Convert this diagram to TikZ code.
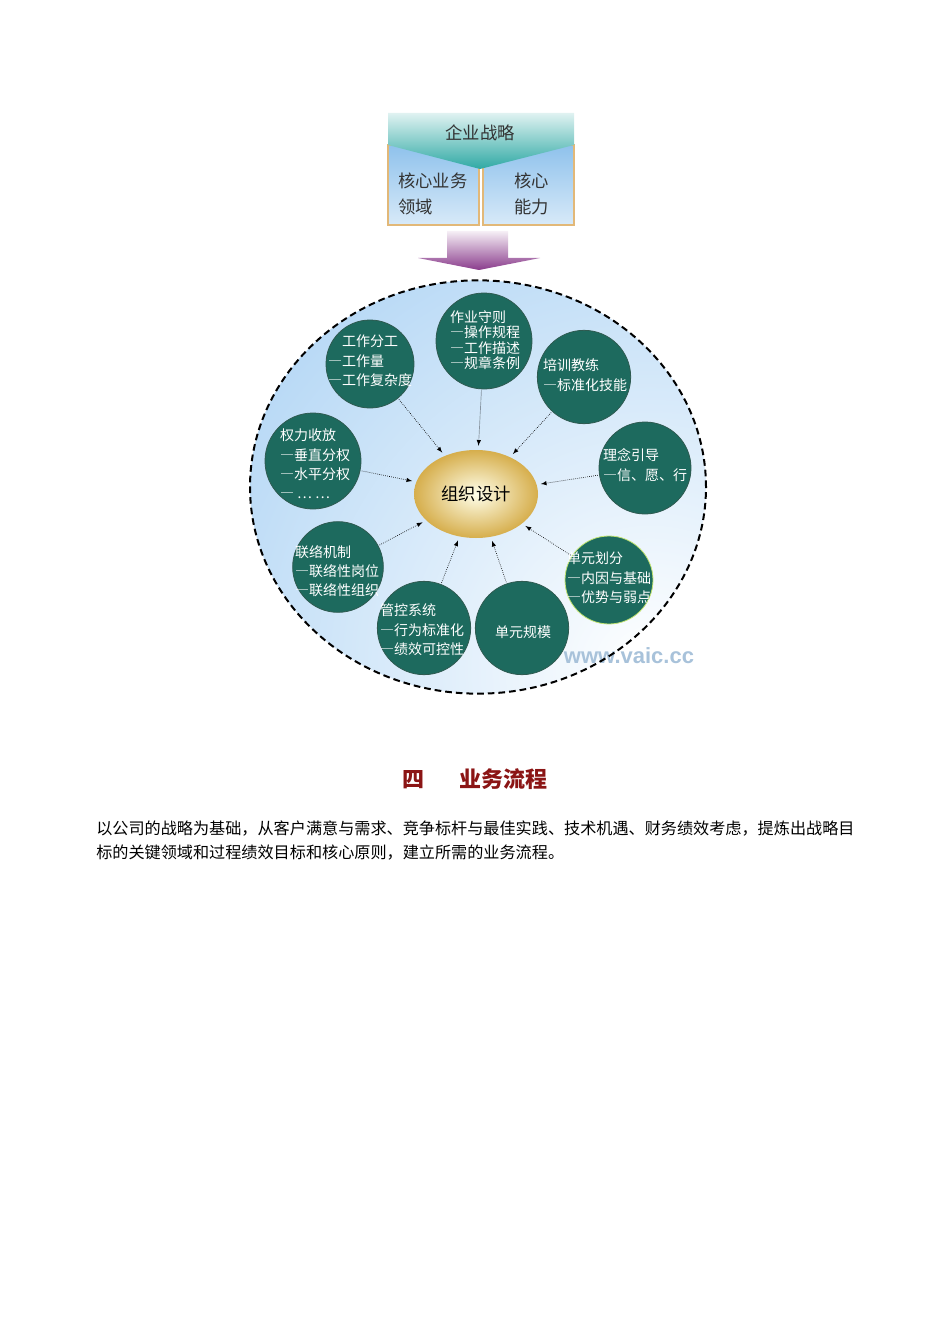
\documentclass[tikz,border=0pt]{standalone}
\usepackage{fontspec}
\setmainfont{Noto Sans CJK SC}
\newfontfamily\wmfont{Liberation Sans}
\newfontfamily\fwfont[CharacterWidth=Full]{Noto Sans CJK SC}
\newcommand{\dsh}{{\fwfont —}}
\usetikzlibrary{shapes.geometric}

\definecolor{unitgreen}{HTML}{1D6A5E}
\definecolor{unitline}{HTML}{2E5A50}
\definecolor{zoneblue}{HTML}{9CCAF2}
\definecolor{bannerteal}{HTML}{2FA9A4}
\definecolor{boxblue}{HTML}{8FC2EC}
\definecolor{boxedge}{HTML}{E2B878}
\definecolor{arrowpurple}{HTML}{8A3C8C}
\definecolor{goldedge}{HTML}{D6AE4C}
\definecolor{titlered}{HTML}{8B1515}
\definecolor{wmgrey}{HTML}{A8C2DA}

\begin{document}
\begin{tikzpicture}[x=0.75pt,y=-0.75pt,
  unit/.style={circle,fill=unitgreen,draw=unitline,line width=0.6pt,minimum size=70pt,inner sep=0pt},
  unittext/.style={text=white,font=\fontsize{10.5}{14.5}\selectfont,align=left,inner sep=0pt},
  boxtext/.style={font=\fontsize{13}{19.5}\selectfont,align=left,inner sep=0pt,text=black!80},
  link/.style={densely dotted,line width=0.5pt,-latex,shorten >=3pt,shorten <=1pt}]
\useasboundingbox (0,0) rectangle (950,1344);

%strategy block on top
\shade[top color=boxblue,bottom color=boxblue!35,draw=boxedge,line width=0.8pt] (388,145) rectangle (479,225);
\shade[top color=boxblue,bottom color=boxblue!35,draw=boxedge,line width=0.8pt] (483,145) rectangle (574,225);
\shade[top color=bannerteal!15,bottom color=bannerteal] (388,113) -- (574,113) -- (574,145) -- (480,169) -- (388,145) -- cycle;
\node[boxtext] (strat) at (480,133) {企业战略};
\node[boxtext,anchor=west] (field) at (398,194) {核心业务\\领域};
\node[boxtext,anchor=west] (ability) at (514,194) {核心\\能力};

%down arrow
\shade[top color=arrowpurple!8,bottom color=arrowpurple] (447,231) -- (508,231) -- (508,258) -- (540,258) -- (479,270) -- (418,258) -- (447,258) -- cycle;

%the zone round the design
\begin{scope}
\clip (478,487) ellipse [x radius=171pt,y radius=155pt];
\shade[inner color=white,outer color=zoneblue] (650,670) circle (500pt);
\end{scope}
\node[font=\wmfont\bfseries\fontsize{16.5}{16.5}\selectfont,text=wmgrey] (mark) at (629,656) {www.vaic.cc};
\draw[dashed,dash pattern=on 5pt off 3pt,line width=1.5pt] (478,487) ellipse [x radius=171pt,y radius=155pt];

%centre
\node[ellipse,minimum width=93pt,minimum height=66pt,inner color=yellow!8!white,outer color=goldedge,font=\fontsize{13}{13}\selectfont] (org) at (476,494) {组织设计};

%put the units round it
\node[unit,minimum size=66pt] (c1) at (370,364) {};
\node[unit,minimum size=72pt] (c2) at (484,341) {};
\node[unit] (c3) at (584,377) {};
\node[unit,minimum size=69pt] (c4) at (645,468) {};
\node[unit,minimum size=66pt,draw=yellow!60!green!60] (c5) at (609,580) {};
\node[unit] (c6) at (522,628) {};
\node[unit] (c7) at (424,628) {};
\node[unit,minimum size=68pt] (c8) at (338,567) {};
\node[unit,minimum size=72pt] (c9) at (313,461) {};

\node[unittext] (t1) at (370,361) {\hspace{1em}工作分工\\\dsh 工作量\\\dsh 工作复杂度};
\node[unittext,font=\fontsize{10.5}{11.5}\selectfont] (t2) at (485,340) {作业守则\\\dsh 操作规程\\\dsh 工作描述\\\dsh 规章条例};
\node[unittext] (t3) at (585,375) {培训教练\\\dsh 标准化技能};
\node[unittext] (t4) at (645,465) {理念引导\\\dsh 信、愿、行};
\node[unittext] (t5) at (609,578) {单元划分\\\dsh 内因与基础\\\dsh 优势与弱点};
\node[unittext] (t6) at (523,632) {单元规模};
\node[unittext] (t7) at (422,630) {管控系统\\\dsh 行为标准化\\\dsh 绩效可控性};
\node[unittext] (t8) at (337,571) {联络机制\\\dsh 联络性岗位\\\dsh 联络性组织};
\node[unittext] (t9) at (315,464) {权力收放\\\dsh 垂直分权\\\dsh 水平分权\\\dsh\ … …};

\foreach \i in {1,...,9}{
\draw[link] (c\i) -- (org);
}

%text below
\node[font=\bfseries\fontsize{16.5}{16.5}\selectfont,text=titlered] (head) at (475,779) {四\hspace{1.6em}业务流程};
\node[anchor=west,inner sep=0pt,font=\fontsize{12.1}{12.1}\selectfont] (line1) at (96,829) {以公司的战略为基础，从客户满意与需求、竞争标杆与最佳实践、技术机遇、财务绩效考虑，提炼出战略目};
\node[anchor=west,inner sep=0pt,font=\fontsize{12.1}{12.1}\selectfont] (line2) at (96,853) {标的关键领域和过程绩效目标和核心原则，建立所需的业务流程。};
\end{tikzpicture}
\end{document}
